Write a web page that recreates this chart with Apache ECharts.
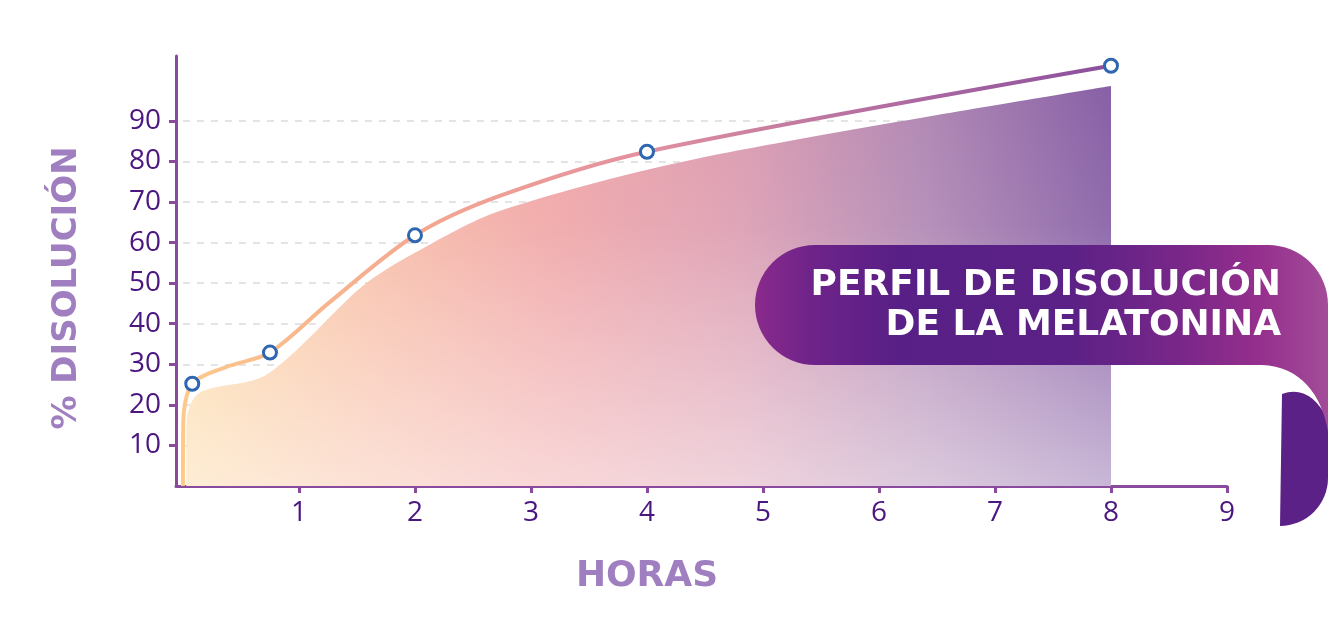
<!DOCTYPE html>
<html>
<head>
<meta charset="utf-8">
<script src="https://cdn.jsdelivr.net/npm/echarts@6/dist/echarts.min.js"></script>
<style>
html,body{margin:0;padding:0;background:#ffffff;}
#chart{width:1339px;height:627px;}
</style>
</head>
<body>
<div id="chart"></div>
<script>
// ---- data ----
const xTicks = [1, 2, 3, 4, 5, 6, 7, 8, 9];
const yTicks = [10, 20, 30, 40, 50, 60, 70, 80, 90];
// measured points (circles)
const sampleHours = [0.08, 0.75, 2, 4, 8];
const samplePct = [25.2, 32.9, 61.8, 82.4, 103.6];
// traced dissolution curve
const curveHours = [0, 0.003, 0.08, 0.37, 0.75, 1.26, 2, 2.73, 4, 8];
const curvePct = [0, 16, 25.2, 29.3, 32.9, 45.2, 61.8, 71.5, 82.4, 103.6];
// filled profile below the curve (read along its upper edge)
const areaHours = [0.03, 0.032, 0.14, 0.72, 1.55, 2, 2.73, 4.45, 8];
const areaPct = [0, 16, 22.9, 27.4, 49.3, 57.5, 67.8, 80.8, 98.6];
const gridLineEnd = 8;

const titleLines = ['PERFIL DE DISOLUCIÓN', 'DE LA MELATONINA'];
const yName = '% DISOLUCIÓN';
const xName = 'HORAS';

const axisColor = '#8a4a9e';
const labelColor = '#4a1680';
const nameColor = '#a07fc0';

// decorative ribbon shapes for the title banner
echarts.graphic.registerShape('bannerShape', echarts.graphic.extendShape({
  shape: {},
  buildPath: function (ctx) {
    ctx.moveTo(815, 245);
    ctx.lineTo(1268, 245);
    ctx.arc(1268, 305, 60, -Math.PI / 2, 0, false);
    ctx.lineTo(1328, 432);
    ctx.bezierCurveTo(1322, 395, 1300, 366, 1262, 365);
    ctx.lineTo(815, 365);
    ctx.arc(815, 305, 60, Math.PI / 2, Math.PI * 1.5, false);
    ctx.closePath();
  }
}));
echarts.graphic.registerShape('foldShape', echarts.graphic.extendShape({
  shape: {},
  buildPath: function (ctx) {
    ctx.moveTo(1282, 394);
    ctx.quadraticCurveTo(1310, 384, 1328, 420);
    ctx.lineTo(1328, 478);
    ctx.arc(1280, 478, 48, 0, Math.PI / 2, false);
    ctx.closePath();
  }
}));

const chart = echarts.init(document.getElementById('chart'), null, {renderer: 'canvas'});

const curveData = curveHours.map((h, i) => [h, curvePct[i]]);
const sampleData = sampleHours.map((h, i) => [h, samplePct[i]]);
const areaData = areaHours.map((h, i) => [h, areaPct[i]]);
const gridData = yTicks.map(v => [{coord: [0, v]}, {coord: [gridLineEnd, v]}]);

const LG = echarts.graphic.LinearGradient;
const labelFont = {color: labelColor, fontFamily: 'Open Sans', fontWeight: 'normal', fontSize: 28};

const option = {
  animation: false,
  backgroundColor: '#ffffff',
  grid: {left: 176, right: 112, top: 56, bottom: 141, containLabel: false},
  xAxis: {
    type: 'value', min: -0.06, max: 9,
    axisLine: {show: true, onZero: false, lineStyle: {color: axisColor, width: 3}},
    axisTick: {show: true, customValues: xTicks, length: 7, lineStyle: {color: axisColor, width: 3}},
    axisLabel: Object.assign({show: true, customValues: xTicks, margin: 13}, labelFont),
    splitLine: {show: false}
  },
  yAxis: {
    type: 'value', min: 0, max: 106,
    axisLine: {show: true, onZero: false, lineStyle: {color: axisColor, width: 3}},
    axisTick: {show: true, customValues: yTicks, length: 7, lineStyle: {color: axisColor, width: 3}},
    axisLabel: Object.assign({show: true, customValues: yTicks, margin: 15}, labelFont),
    splitLine: {show: false}
  },
  series: [
    {
      name: 'grid', type: 'line', data: [], silent: true,
      markLine: {
        silent: true, symbol: ['none', 'none'], z: 1, label: {show: false},
        lineStyle: {color: '#dcdcdc', width: 1.5, type: [7, 7]},
        data: gridData
      }
    },
    {
      name: 'area', type: 'line', z: 3, data: areaData, smooth: 0.3,
      symbol: 'none', lineStyle: {width: 0},
      areaStyle: {
        opacity: 1,
        color: new LG(0, 0, 1, 0, [
          {offset: 0, color: '#fcd8a2'},
          {offset: 0.2, color: '#f8bda6'},
          {offset: 0.4, color: '#f0a6a8'},
          {offset: 0.6, color: '#dc9db2'},
          {offset: 0.8, color: '#b088b4'},
          {offset: 1, color: '#8760a6'}
        ])
      }
    },
    {
      name: 'areaFade', type: 'line', z: 3, data: areaData, smooth: 0.3,
      symbol: 'none', lineStyle: {width: 0},
      areaStyle: {
        opacity: 1,
        color: new LG(0, 0, 0, 1, [
          {offset: 0, color: 'rgba(255,255,255,0)'},
          {offset: 0.35, color: 'rgba(255,255,255,0.08)'},
          {offset: 1, color: 'rgba(255,255,255,0.55)'}
        ])
      }
    },
    {
      name: 'curva', type: 'line', z: 4, data: curveData, smooth: 0.3,
      symbol: 'none',
      lineStyle: {
        width: 4,
        color: new LG(0, 0, 1, 0, [
          {offset: 0, color: '#fdca8c'},
          {offset: 0.25, color: '#f4a890'},
          {offset: 0.5, color: '#e2909f'},
          {offset: 0.75, color: '#b26ea2'},
          {offset: 1, color: '#8a4e9c'}
        ])
      }
    },
    {
      name: 'disolución', type: 'line', z: 5, data: sampleData,
      symbol: 'circle', symbolSize: 13, showSymbol: true,
      lineStyle: {width: 0, opacity: 0},
      itemStyle: {color: '#ffffff', borderColor: '#2f66b0', borderWidth: 3}
    }
  ],
  graphic: [
    {
      type: 'text', x: 67, y: 288, rotation: Math.PI / 2,
      style: {text: yName, fill: nameColor, font: 'bold 34px "DejaVu Sans"', align: 'center', verticalAlign: 'middle'}
    },
    {
      type: 'text', x: 647, y: 577,
      style: {text: xName, fill: nameColor, font: 'bold 36px "DejaVu Sans"', align: 'center', verticalAlign: 'middle'}
    },
    {
      type: 'foldShape', z: 100,
      shape: {},
      style: {fill: '#5b2186'}
    },
    {
      type: 'bannerShape', z: 101,
      shape: {},
      style: {
        fill: new LG(0, 0, 1, 0, [
          {offset: 0, color: '#8a2a8c'},
          {offset: 0.1, color: '#6e2389'},
          {offset: 0.25, color: '#581f86'},
          {offset: 0.55, color: '#5b2186'},
          {offset: 0.75, color: '#7a2789'},
          {offset: 0.88, color: '#952f8d'},
          {offset: 1, color: '#a34c99'}
        ])
      }
    },
    {
      type: 'text', z: 102, x: 1281, y: 286,
      style: {text: titleLines[0], fill: '#ffffff', align: 'right', verticalAlign: 'middle',
        font: 'bold 36px "DejaVu Sans"'}
    },
    {
      type: 'text', z: 102, x: 1281, y: 326,
      style: {text: titleLines[1], fill: '#ffffff', align: 'right', verticalAlign: 'middle',
        font: 'bold 36px "DejaVu Sans"'}
    }
  ]
};
chart.setOption(option);
</script>
</body>
</html>
